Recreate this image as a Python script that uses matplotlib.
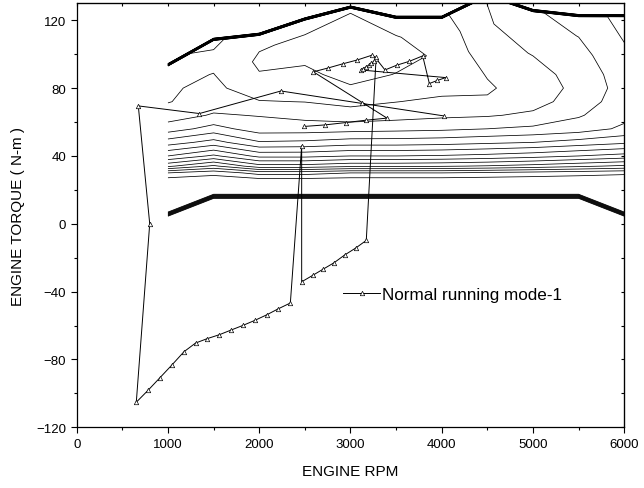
import numpy as np
import matplotlib.pyplot as plt
from matplotlib.ticker import MultipleLocator

plt.rcParams['font.family'] = ['Liberation Sans', 'DejaVu Sans']

# efficiency map grid
rpm_cols = [1000, 1500, 2000, 2500, 3000, 3500, 4000, 4500, 5000, 5500, 6000]
max_torque = [93, 108, 111, 120, 127, 121, 121, 134, 125, 122, 122]
band_torque = [7, 17.5, 17.5, 17.5, 17.5, 17.5, 17.5, 17.5, 17.5, 17.5, 7]
mid_rows = [26, 30, 34, 40, 48, 56, 64, 72, 80, 88]
eff_mid = [
    [10.6, 10.5, 10.7, 10.7, 10.6, 10.6, 10.6, 10.55, 10.5, 10.45, 10.4],
    [12.0, 11.3, 12.4, 12.4, 12.0, 12.0, 12.0, 11.8, 11.6, 11.4, 11.2],
    [15.2, 13.8, 15.6, 15.6, 15.2, 15.2, 15.1, 14.9, 14.6, 14.2, 13.8],
    [18.0, 16.8, 18.3, 18.3, 18.0, 18.0, 17.9, 17.7, 17.4, 17.0, 16.6],
    [20.5, 19.6, 20.9, 20.8, 20.5, 20.5, 20.4, 20.2, 20.0, 19.6, 19.2],
    [22.5, 21.6, 22.5, 22.5, 22.4, 22.3, 22.2, 22.0, 21.8, 21.5, 20.8],
    [23.5, 22.9, 23.05, 23.3, 23.6, 23.4, 23.2, 23.1, 22.8, 22.1, 21.3],
    [24.05, 23.5, 23.95, 24.02, 24.25, 24.02, 23.8, 23.9, 23.4, 22.5, 21.5],
    [24.1, 23.8, 24.5, 24.5, 24.9, 24.6, 24.3, 24.1, 23.6, 22.7, 21.6],
    [24.2, 23.98, 24.95, 24.8, 25.3, 24.97, 24.7, 23.95, 23.4, 22.6, 21.5],
]
# rows at 1/3, 2/3 and 3/3 of the way from 88 N-m to max torque
eff_top = [
    [24.2, 24.15, 25.15, 25.2, 25.5, 25.3, 24.85, 23.4, 22.95, 22.35, 21.2],
    [24.2, 24.05, 24.95, 25.1, 25.35, 25.05, 24.6, 23.1, 22.4, 21.98, 20.9],
    [24.2, 23.8, 24.7, 24.6, 24.9, 24.5, 24.2, 22.95, 22.1, 21.7, 20.6],
]
band_eff = 10.3

# operating points, normal running mode-1
run_rpm = [4024, 3122, 2238, 1344, 675, 800, 653, 785, 913, 1044, 1176, 1303,
           1431, 1563, 1694, 1822, 1954, 2085, 2206, 2341, 2465, 2465, 2586,
           2702, 2819, 2936, 3057, 3173, 3280, 3378, 3506, 3645, 3791, 3864,
           3951, 4043, 3111, 3140, 3170, 3199, 3228, 3258, 3275, 3235, 3075,
           2914, 2757, 2593, 3400, 3173, 2951, 2720, 2494]
run_torque = [63.6, 71.0, 78.3, 65.0, 69.5, 0, -105.2, -98.0, -90.7, -83.2,
              -75.4, -70.3, -67.7, -65.4, -62.6, -59.9, -56.9, -53.6, -50.2,
              -46.7, 46.0, -34.2, -30.4, -26.7, -23.0, -18.4, -14.3, -9.8,
              97.4, 90.7, 93.5, 95.8, 99.0, 82.7, 84.5, 86.2, 90.7, 91.5, 92.5,
              93.5, 94.7, 95.9, 98.2, 99.4, 96.6, 94.3, 91.9, 89.6, 62.3, 61.1,
              59.7, 58.3, 57.4]

# build the curvilinear grid
n = len(rpm_cols)
tmax = np.array(max_torque, float)
tb = np.array(band_torque, float)
ycols = [np.zeros(n), tb - 2.8, tb]
zrows = [np.zeros(n), np.zeros(n), np.full(n, band_eff)]
for t, row in zip(mid_rows, eff_mid):
    ycols.append(np.full(n, t, float))
    zrows.append(np.array(row))
for k, row in enumerate(eff_top):
    ycols.append(88 + (tmax - 88) * (k + 1) / 3)
    zrows.append(np.array(row))
ycols += [tmax + 1.5, np.full(n, 140.0)]
zrows += [np.zeros(n), np.zeros(n)]
Y = np.array(ycols)
Z = np.array(zrows)
X = np.tile(np.array(rpm_cols, float), (len(Y), 1))

fig = plt.figure(figsize=(6.44, 4.89), dpi=100)
ax = fig.add_axes([0.1191, 0.1241, 0.8503, 0.8671])

ax.contour(X, Y, Z, levels=np.arange(1, 26), colors='black', linewidths=0.55)
ax.plot(run_rpm, run_torque, color='black', lw=0.7, marker='^', ms=3.2,
        mfc='white', mec='black', mew=0.5, label='Normal running mode-1')

ax.set_xlim(0, 6000)
ax.set_ylim(-120, 130)
ax.xaxis.set_major_locator(MultipleLocator(1000))
ax.xaxis.set_minor_locator(MultipleLocator(500))
ax.yaxis.set_major_locator(MultipleLocator(40))
ax.yaxis.set_minor_locator(MultipleLocator(20))
ax.tick_params(which='both', direction='out', labelsize=9.5, width=0.8)
ax.tick_params(which='major', length=4)
ax.tick_params(which='minor', length=2.5)

top = ax.secondary_xaxis('top')
top.xaxis.set_major_locator(MultipleLocator(500))
top.tick_params(direction='in', length=2.5, labeltop=False, width=0.8)
right = ax.secondary_yaxis('right')
right.yaxis.set_major_locator(MultipleLocator(20))
right.tick_params(direction='in', length=2.5, labelright=False, width=0.8)

for s in ax.spines.values():
    s.set_linewidth(0.9)

ax.set_xlabel('ENGINE RPM', fontsize=11, labelpad=10)
ax.set_ylabel('ENGINE TORQUE ( N-m )', fontsize=11, labelpad=8)

ax.legend(loc='center left', bbox_to_anchor=(0.458, 0.314), frameon=False,
          fontsize=12.3, handlelength=2.2, handletextpad=0.1)

fig.savefig('out.png', dpi=100)
